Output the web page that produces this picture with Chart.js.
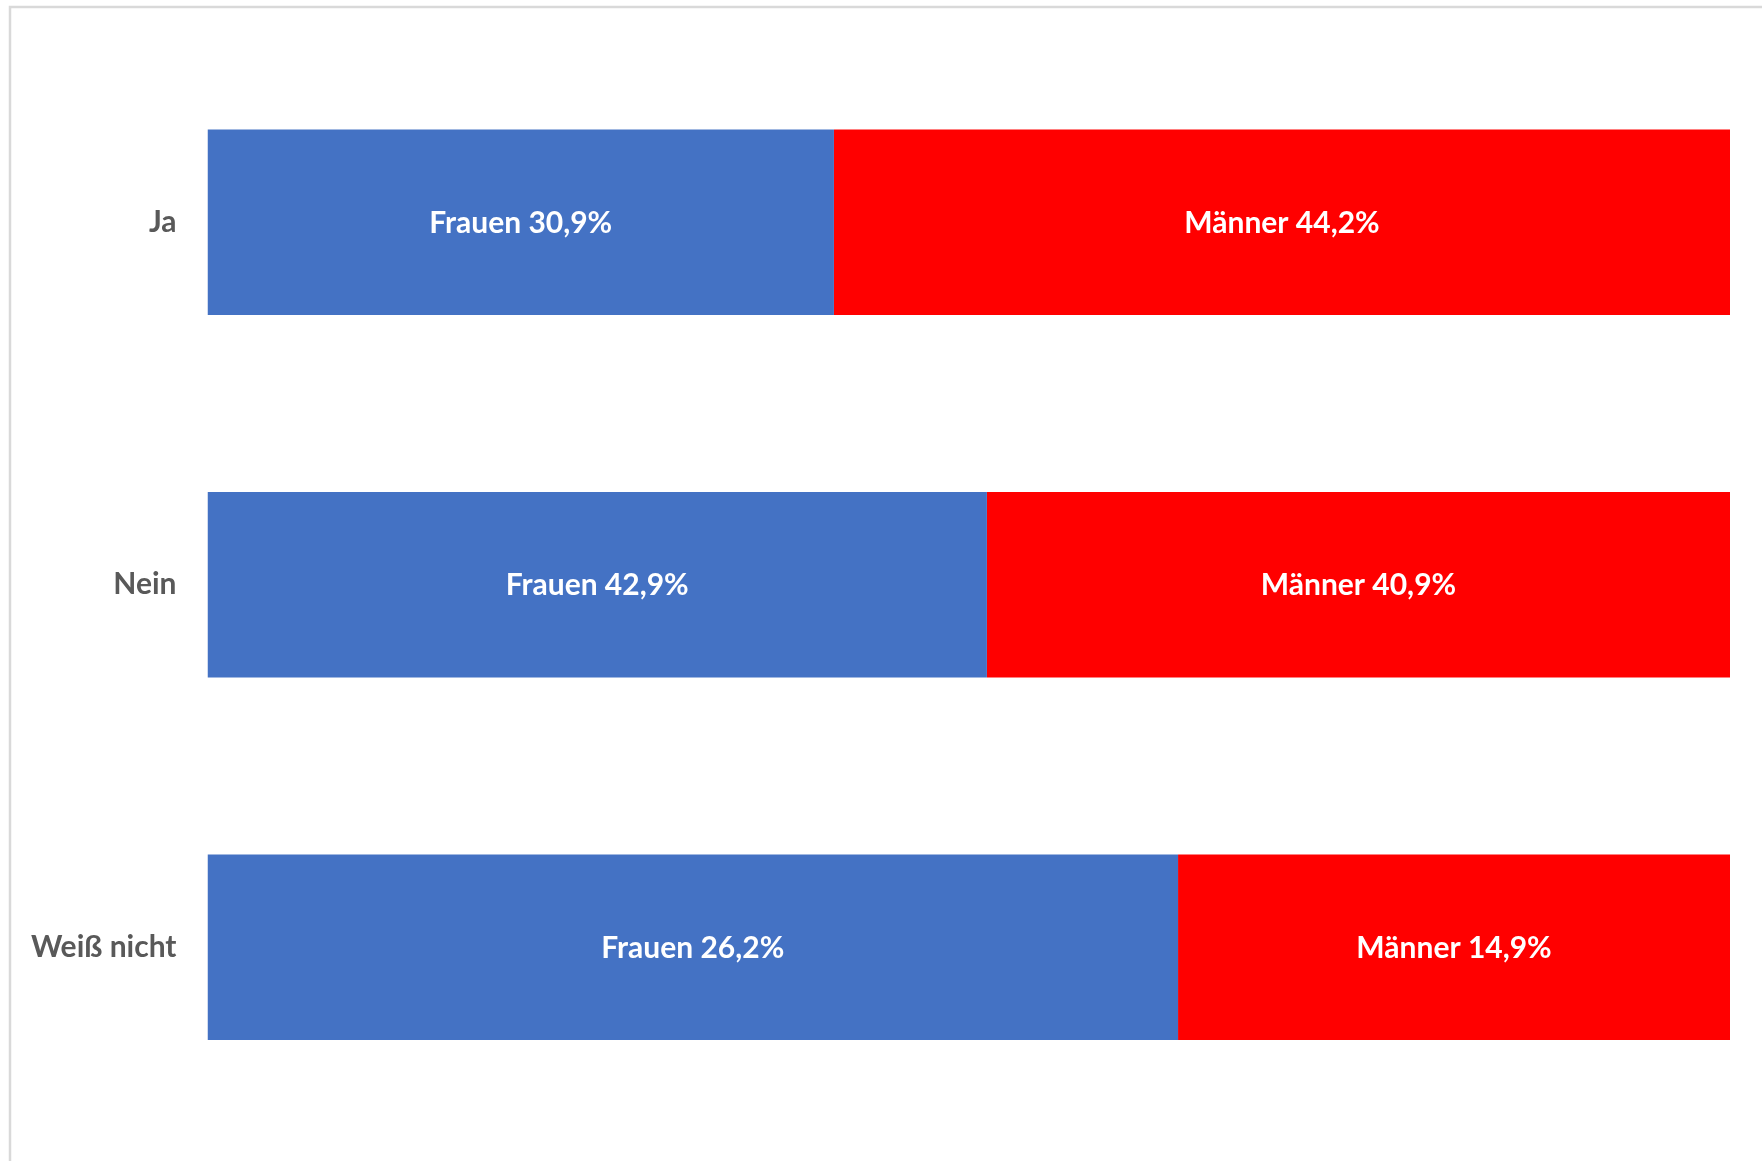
<!DOCTYPE html>
<html>
<head>
<meta charset="utf-8">
<script src="https://cdn.jsdelivr.net/npm/chart.js@4.4.0/dist/chart.umd.min.js"></script>
<style>
  html, body { margin: 0; padding: 0; background: #ffffff; }
  #wrap { position: relative; width: 1762px; height: 1161px; }
  canvas { display: block; }
</style>
</head>
<body>
<div id="wrap"><canvas id="c" width="1762" height="1161"></canvas></div>
<script>
const categories = ["Ja", "Nein", "Weiß nicht"];
const seriesNames = ["Frauen", "Männer"];
const frauen = [30.9, 42.9, 26.2];
const maenner = [44.2, 40.9, 14.9];
const seriesColors = ["#4472C4", "#FF0000"];

const totals = frauen.map((v, i) => v + maenner[i]);
const raw = [frauen, maenner];
const shares = raw.map(arr => arr.map((v, i) => v / totals[i]));

const FONT = "Lato, 'Open Sans', sans-serif";

const framePlugin = {
  id: 'frame',
  beforeDraw(chart) {
    const ctx = chart.ctx;
    ctx.save();
    ctx.fillStyle = '#ffffff';
    ctx.fillRect(0, 0, chart.width, chart.height);
    ctx.strokeStyle = '#d9d9d9';
    ctx.lineWidth = 2.5;
    ctx.beginPath();
    ctx.moveTo(10, chart.height);
    ctx.lineTo(10, 7);
    ctx.lineTo(chart.width, 7);
    ctx.stroke();
    ctx.restore();
  }
};

const labelPlugin = {
  id: 'barLabels',
  afterDatasetsDraw(chart) {
    const ctx = chart.ctx;
    ctx.save();
    ctx.font = "bold 30px " + FONT;
    ctx.fillStyle = '#ffffff';
    ctx.textAlign = 'center';
    ctx.textBaseline = 'middle';
    chart.data.datasets.forEach((ds, di) => {
      const meta = chart.getDatasetMeta(di);
      meta.data.forEach((bar, i) => {
        const cx = (bar.x + bar.base) / 2;
        const txt = seriesNames[di] + " " + raw[di][i].toFixed(1).replace('.', ',') + "%";
        ctx.fillText(txt, cx, bar.y + 1);
      });
    });
    ctx.restore();
  }
};

new Chart(document.getElementById('c'), {
  type: 'bar',
  data: {
    labels: categories,
    datasets: seriesNames.map((name, di) => ({
      label: name,
      data: shares[di],
      backgroundColor: seriesColors[di],
      borderWidth: 0,
      categoryPercentage: 1.0,
      barPercentage: 0.512
    }))
  },
  options: {
    indexAxis: 'y',
    responsive: false,
    animation: false,
    layout: { padding: { left: 0, right: 32, top: 41, bottom: 32.5 } },
    plugins: {
      legend: { display: false },
      tooltip: { enabled: false }
    },
    scales: {
      x: {
        stacked: true,
        min: 0,
        max: 1,
        display: false
      },
      y: {
        stacked: true,
        grid: { display: false },
        border: { display: false },
        ticks: {
          color: '#595959',
          font: { family: FONT, size: 30, weight: 'bold' },
          padding: 23
        },
        afterFit(scale) {
          scale.width = 207.5;
          scale.paddingTop = 0;
          scale.paddingBottom = 0;
        }
      }
    }
  },
  plugins: [framePlugin, labelPlugin]
});
</script>
</body>
</html>
